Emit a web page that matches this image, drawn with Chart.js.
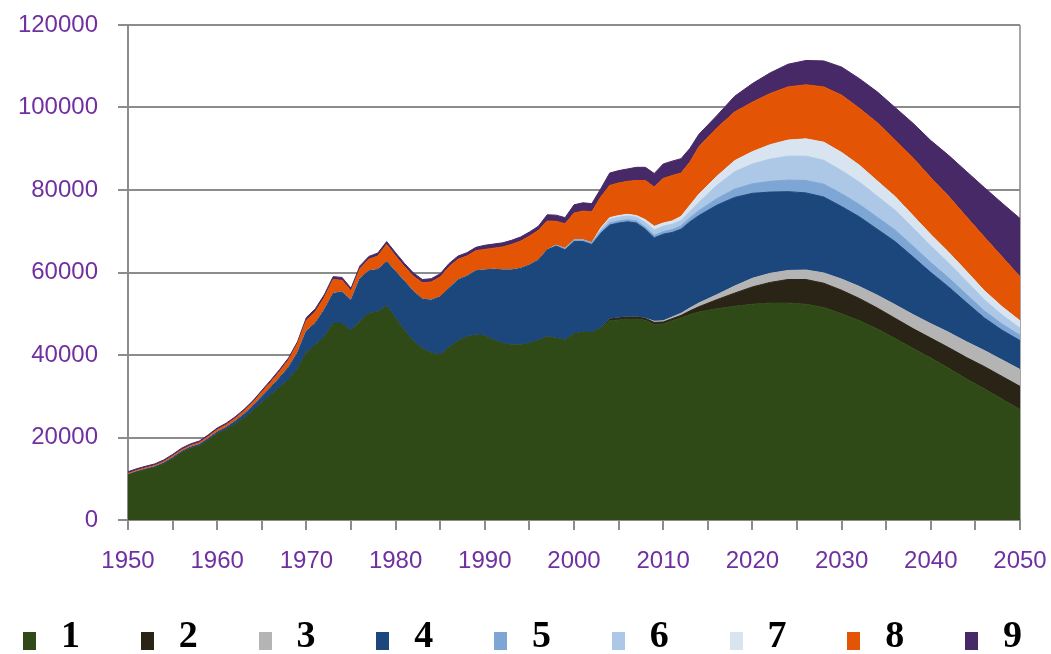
<!DOCTYPE html>
<html>
<head>
<meta charset="utf-8">
<script src="https://cdn.jsdelivr.net/npm/chart.js"></script>
<style>
  html, body { margin: 0; padding: 0; background: #fff; }
  #wrap { position: relative; width: 1051px; height: 654px; overflow: hidden; }
  #legend { position: absolute; left: 23px; top: 614px; display: flex; }
  .item { width: 117.75px; height: 40px; position: relative; }
  .box { position: absolute; left: 0; top: 18px; width: 13px; height: 18px; }
  .txt { position: absolute; left: 38px; top: 0; font: bold 38px "Liberation Serif", serif; line-height: 40px; color: #000; }
</style>
</head>
<body>
<div id="wrap">
  <canvas id="myChart" width="1051" height="654"></canvas>
  <div id="legend"></div>
</div>
<script>
// years: annual to 2014, then every 2 years
var years = [1950,1951,1952,1953,1954,1955,1956,1957,1958,1959,
  1960,1961,1962,1963,1964,1965,1966,1967,1968,1969,
  1970,1971,1972,1973,1974,1975,1976,1977,1978,1979,
  1980,1981,1982,1983,1984,1985,1986,1987,1988,1989,
  1990,1991,1992,1993,1994,1995,1996,1997,1998,1999,
  2000,2001,2002,2003,2004,2005,2006,2007,2008,2009,
  2010,2011,2012,2013,2014,
  2016,2018,2020,2022,2024,2026,2028,2030,2032,2034,2036,2038,2040,2042,2044,2046,2048,2050];

var s1 = [10900,11600,12200,12700,13600,14800,16300,17300,17900,19300,
  20800,21800,23100,24600,26400,28400,30200,32100,34000,36500,
  40500,42400,44300,47600,47600,45800,48100,50000,50400,51800,
  48800,45800,43300,41500,40400,40000,41800,43400,44400,44800,
  44600,43600,42800,42400,42400,42800,43500,44400,44000,43600,
  45100,45500,45400,46500,48300,48500,48700,48700,48400,47400,
  47500,48300,49000,49800,50400,
  51200,51800,52300,52600,52600,52300,51500,50000,48300,46300,44000,41600,39300,36800,34200,31800,29300,26800];

var s2 = [0,0,0,0,0,0,0,0,0,0,
  0,0,0,0,0,0,0,0,0,0,
  0,0,0,0,0,0,0,0,0,0,
  0,0,0,0,0,0,0,0,0,0,
  0,0,0,0,0,0,0,0,0,0,
  0,0,0,0,400,500,500,500,500,500,
  500,500,600,900,1300,
  2200,3200,4200,5000,5700,6000,5900,5700,5400,5100,4900,4800,4800,5000,5200,5400,5500,5600];

var s3 = [0,0,0,0,0,0,0,0,0,0,
  0,0,0,0,0,0,0,0,0,0,
  0,0,0,0,0,0,0,0,0,0,
  0,0,0,0,0,0,0,0,0,0,
  0,0,0,0,0,0,0,0,0,0,
  0,0,0,0,0,0,0,0,0,300,
  300,400,500,700,900,
  1200,1700,2100,2200,2200,2300,2500,2700,2900,3100,3300,3400,3500,3700,3800,3900,4000,4100];

var s4 = [100,150,150,200,200,300,300,350,400,450,
  500,600,800,1000,1200,1500,1900,2400,3000,4000,
  5300,5300,6600,7300,7700,7400,10400,10400,10300,10800,
  11400,12000,12100,12000,12900,14100,14400,14800,14700,15600,
  16000,17200,17800,18200,18600,19000,19500,21100,22400,21900,
  22400,22000,21400,23000,22800,23000,23100,22800,21600,20200,
  21000,20500,20400,20900,21200,
  21700,21500,20600,19700,19100,18700,18400,17600,16900,16000,15300,14000,12400,11000,9500,7900,7200,7000];

var s5 = [0,0,0,0,0,0,0,0,0,0,
  0,0,0,0,0,0,0,0,0,0,
  0,0,0,0,0,0,0,0,0,0,
  0,0,0,0,0,0,0,0,0,0,
  0,0,0,0,0,0,0,0,200,300,
  400,400,400,500,500,500,500,500,500,600,
  600,700,800,1000,1200,
  1600,2000,2300,2600,2800,3000,3100,3100,3000,2900,2800,2600,2400,2200,2000,1700,1500,1300];

var s6 = [0,0,0,0,0,0,0,0,0,0,
  0,0,0,0,0,0,0,0,0,0,
  0,0,0,0,0,0,0,0,0,0,
  0,0,0,0,0,0,0,0,0,0,
  0,0,0,0,0,0,0,0,0,0,
  0,0,0,500,900,900,900,900,1100,1300,
  1300,1300,1300,1500,2000,
  3200,4200,4800,5400,5800,5900,5800,5600,5400,5100,4800,4400,4000,3600,3200,2700,2200,1700];

var s7 = [0,0,0,0,0,0,0,0,0,0,
  0,0,0,0,0,0,0,0,0,0,
  0,0,0,0,0,0,0,0,0,0,
  0,0,0,0,0,0,0,0,0,0,
  0,0,0,0,0,0,0,0,0,0,
  0,0,0,300,400,400,400,400,700,900,
  800,800,1000,1500,2000,
  2200,2700,3000,3500,3900,4200,4400,4400,4100,3700,3300,3000,2800,2600,2400,2200,2000,1800];

var s8 = [300,300,300,300,350,400,400,400,450,500,
  600,650,700,800,900,1100,1300,1500,1800,2200,
  2600,2800,3000,3400,2800,2300,2400,2800,3300,4200,
  3800,3600,3700,4000,4400,4800,5200,5000,4900,4900,
  5000,5100,5600,6200,6600,7000,7200,7000,5800,6000,
  6500,7000,7500,7500,7800,7900,8000,8500,9500,9500,
  10800,11000,10500,10500,11500,
  11700,11800,12000,12400,12900,13100,13400,13900,13800,14100,13700,14000,13800,13600,13200,13000,12100,10700];

var s9 = [400,400,400,400,400,400,400,400,400,400,
  400,400,400,400,400,400,500,500,500,500,
  700,700,700,700,700,700,700,700,700,700,
  800,800,800,800,800,800,800,800,800,800,
  1000,1000,1000,1000,1000,1000,1000,1500,1500,1500,
  2000,2000,2000,2000,3000,3000,3000,3200,3200,3300,
  3500,3500,3500,3300,3000,
  3000,3800,4500,5000,5500,5900,6300,6800,7200,7500,7900,8400,9000,9900,11000,12000,13000,14100];

var seriesNames = ['1','2','3','4','5','6','7','8','9'];
var seriesColors = ['#2f4a16','#2a2417','#b4b4b4','#1c477c','#7ea6d4','#adc8e6','#d9e4f1','#e35505','#462966'];
var seriesData = [s1, s2, s3, s4, s5, s6, s7, s8, s9];

var yTickStep = 20000;
var yMax = 120000;
var xTickStep = 5;
var xLabelStep = 10;

var labelColor = '#7030a0';
var axisColor = '#8c8c8c';

var datasets = seriesData.map(function (vals, k) {
  return {
    label: seriesNames[k],
    data: years.map(function (yr, i) { return { x: yr, y: vals[i] }; }),
    backgroundColor: seriesColors[k],
    borderColor: seriesColors[k],
    borderWidth: 1,
    pointRadius: 0,
    tension: 0,
    fill: k === 0 ? 'origin' : '-1'
  };
});

var ctx = document.getElementById('myChart').getContext('2d');
var myChart = new Chart(ctx, {
  type: 'line',
  data: { datasets: datasets },
  options: {
    responsive: false,
    animation: false,
    layout: { padding: { left: 0, right: 31, top: 25, bottom: 74 } },
    plugins: { legend: { display: false }, tooltip: { enabled: false } },
    scales: {
      x: {
        type: 'linear',
        min: years[0],
        max: years[years.length - 1],
        ticks: {
          stepSize: xTickStep,
          autoSkip: false,
          maxRotation: 0,
          color: labelColor,
          padding: 17,
          font: { family: 'Liberation Sans', size: 24 },
          callback: function (v) { return v % xLabelStep === 0 ? String(v) : ''; }
        },
        grid: {
          drawOnChartArea: true,
          color: function (c) { return c.tick && c.tick.value === years[years.length - 1] ? '#a6a6a6' : 'rgba(0,0,0,0)'; },
          tickColor: axisColor,
          tickLength: 10,
          lineWidth: 2,
          tickWidth: 2
        },
        border: { display: true, color: axisColor, width: 2 },
        afterFit: function (s) { s.height = 60; s.paddingLeft = 0; s.paddingRight = 0; }
      },
      y: {
        stacked: true,
        min: 0,
        max: yMax,
        ticks: {
          stepSize: yTickStep,
          color: labelColor,
          padding: 20,
          font: { family: 'Liberation Sans', size: 24 },
          callback: function (v) { return String(v); }
        },
        grid: { color: axisColor, lineWidth: 2, tickLength: 10 },
        border: { display: true, color: axisColor, width: 2 },
        afterFit: function (s) { s.width = 128; s.paddingTop = 0; s.paddingBottom = 0; }
      }
    }
  }
});

// legend below the chart
var legend = document.getElementById('legend');
seriesNames.forEach(function (name, k) {
  var item = document.createElement('div');
  item.className = 'item';
  item.innerHTML = '<span class="box" style="background:' + seriesColors[k] + '"></span><span class="txt">' + name + '</span>';
  legend.appendChild(item);
});
</script>
</body>
</html>
